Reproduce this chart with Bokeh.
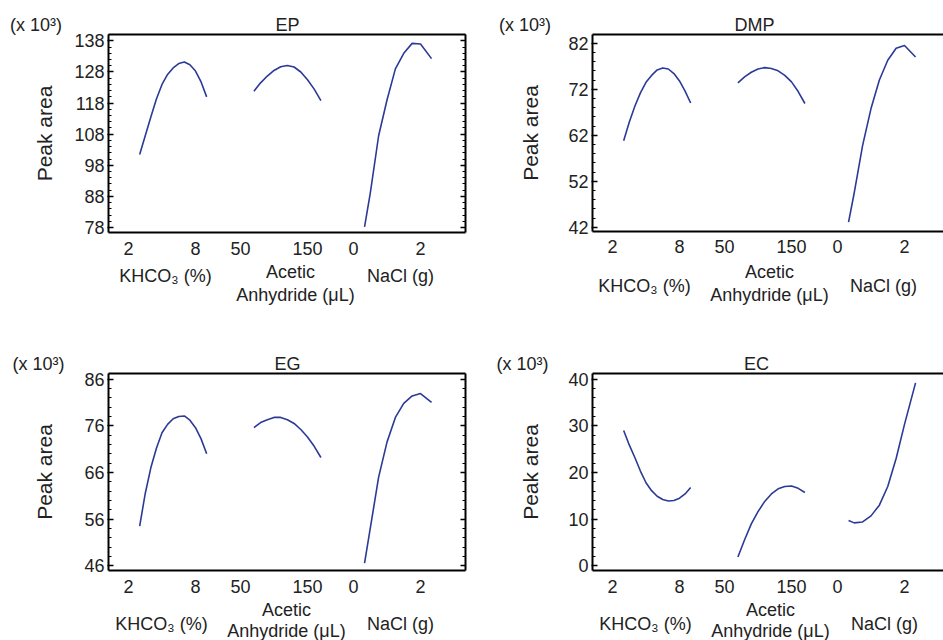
from bokeh.plotting import figure
from bokeh.models import FixedTicker, LinearAxis, Range1d
from bokeh.layouts import column, row
from bokeh.embed import file_html
from bokeh.resources import INLINE

# ---------------- data ----------------
khco3_levels = [3, 3.5, 4, 4.5, 5, 5.5, 6, 6.5, 7, 7.5, 8, 8.5, 9]
acetic_levels = [70, 80, 90, 100, 110, 120, 130, 140, 150, 160, 170]
nacl_levels = [0.33, 0.5, 0.75, 1.0, 1.25, 1.5, 1.75, 2.0, 2.33]

ep_khco3 = [101.5, 107.5, 113.5, 119.3, 124.0, 127.2, 129.3, 130.7, 131.2, 130.3, 128.3, 124.8, 120.0]
ep_acetic = [121.8, 124.5, 126.7, 128.5, 129.7, 130.1, 129.6, 128.0, 125.5, 122.5, 118.8]
ep_nacl = [78.2, 89.0, 107.5, 119.0, 129.0, 134.0, 137.2, 137.0, 132.3]

dmp_khco3 = [60.8, 64.8, 68.3, 71.2, 73.5, 75.0, 76.2, 76.6, 76.4, 75.4, 73.8, 71.6, 69.0]
dmp_acetic = [73.4, 74.7, 75.7, 76.4, 76.7, 76.5, 76.0, 75.0, 73.6, 71.5, 68.9]
dmp_nacl = [43.1, 49.5, 59.8, 67.8, 74.0, 78.3, 80.9, 81.5, 79.0]

eg_khco3 = [54.5, 61.5, 67.0, 71.2, 74.5, 76.3, 77.5, 78.0, 78.1, 77.2, 75.6, 73.2, 70.0]
eg_acetic = [75.6, 76.7, 77.3, 77.8, 77.8, 77.3, 76.5, 75.2, 73.6, 71.6, 69.2]
eg_nacl = [46.6, 54.0, 65.0, 72.5, 77.8, 80.8, 82.4, 82.9, 81.0]

ec_khco3 = [29.0, 25.9, 23.2, 20.3, 17.8, 16.1, 14.9, 14.2, 13.9, 14.0, 14.5, 15.4, 16.8]
ec_acetic = [1.9, 5.6, 9.0, 11.6, 13.8, 15.4, 16.5, 17.0, 17.1, 16.6, 15.7]
ec_nacl = [9.7, 9.2, 9.4, 10.7, 13.0, 17.0, 23.0, 30.3, 39.2]

panel_names = ["EP", "DMP", "EG", "EC"]
y_major = {
    "EP": [78, 88, 98, 108, 118, 128, 138],
    "DMP": [42, 52, 62, 72, 82],
    "EG": [46, 56, 66, 76, 86],
    "EC": [0, 10, 20, 30, 40],
}
x_tick_labels = ["2", "8", "50", "150", "0", "2"]
factor_tick_values = [(2, 8), (50, 150), (0, 2)]
factor_names = ["KHCO\u2083 (%)", "Acetic", "Anhydride (\u03bcL)", "NaCl (g)"]
scale_text = "(x 10\u00b3)"

# ---------------- styling / layout ----------------
BLUE = "#2b3a97"
TXT = "#222222"
FONT = "Liberation Sans"
H = 21            # assumed tick-label box height for 18px text
SCALE_W = 52      # approx. width of the "(x 10^3)" text at 18px
NBSP_W = 5.0      # width of a no-break space at 18px
anchors = [(20, 87), (132, 199), (245, 312)]  # px from frame left for each factor's tick values

y_ranges = {"EP": (76.4, 140.05), "DMP": (41.07, 83.9), "EG": (45.0, 87.2), "EC": (-1.0, 41.2)}
series = {
    "EP": (ep_khco3, ep_acetic, ep_nacl),
    "DMP": (dmp_khco3, dmp_acetic, dmp_nacl),
    "EG": (eg_khco3, eg_acetic, eg_nacl),
    "EC": (ec_khco3, ec_acetic, ec_nacl),
}
layout_cfg = {
    "EP":  dict(fw=357, fh=198, bl=108, bt=34, bb=88, br=5, right=True, ls=15, tx=179, sx=-98,
                nso=9, dy=(45, 66, 45), lx=(57, 182, 187, 292)),
    "DMP": dict(fw=351, fh=197, bl=122, bt=32, bb=91, br=0, right=False, ls=23, tx=162, sx=-93,
                nso=8, dy=(45, 67, 55), lx=(52, 177, 177, 291)),
    "EG":  dict(fw=357, fh=197, bl=108, bt=53, bb=70, br=5, right=True, ls=25, tx=179, sx=-96,
                nso=9, dy=(44, 64, 54), lx=(53, 178, 178, 292)),
    "EC":  dict(fw=351, fh=197, bl=122, bt=53, bb=70, br=0, right=False, ls=23, tx=164, sx=-95,
                nso=9, dy=(44, 64, 54), lx=(53, 178, 178, 292)),
}


def to_display(levels, k):
    (v0, v1), (a0, a1) = factor_tick_values[k], anchors[k]
    return [a0 + (v - v0) * (a1 - a0) / (v1 - v0) for v in levels]


def text_axis(ticks, labels, standoff, size="18px"):
    ax = LinearAxis(ticker=FixedTicker(ticks=ticks, minor_ticks=[]),
                    major_label_overrides={t: s for t, s in zip(ticks, labels)})
    ax.axis_line_color = None
    ax.major_tick_line_color = None
    ax.minor_tick_line_color = None
    ax.major_tick_in = 0
    ax.major_tick_out = 0
    ax.minor_tick_in = 0
    ax.minor_tick_out = 0
    ax.major_label_standoff = standoff
    ax.major_label_text_font = FONT
    ax.major_label_text_font_size = size
    ax.major_label_text_color = TXT
    return ax


def line_axis(ticker, tin=0, tmin=0):
    ax = LinearAxis(ticker=ticker)
    ax.axis_line_width = 2
    ax.axis_line_color = "black"
    ax.major_tick_in = tin
    ax.major_tick_out = 0
    ax.minor_tick_in = tmin
    ax.minor_tick_out = 0
    ax.major_tick_line_width = 1.5
    ax.minor_tick_line_width = 1.2
    if tin == 0:
        ax.major_tick_line_color = None
        ax.minor_tick_line_color = None
    ax.major_label_standoff = 0
    ax.major_label_text_color = None
    return ax


def make_panel(name):
    c = layout_cfg[name]
    ylo, yhi = y_ranges[name]
    majors = y_major[name]
    step = (majors[1] - majors[0]) / 5
    t = majors[0]
    while t - step >= ylo:
        t -= step
    minors = []
    while t <= yhi:
        minors.append(round(t, 6))
        t += step

    p = figure(frame_width=c["fw"], frame_height=c["fh"],
               x_range=Range1d(0, c["fw"]), y_range=Range1d(ylo, yhi),
               x_axis_type=None, y_axis_type=None,
               output_backend="svg", toolbar_location=None,
               min_border_left=c["bl"], min_border_top=c["bt"],
               min_border_bottom=c["bb"], min_border_right=c["br"])
    p.outline_line_color = None
    p.background_fill_color = "white"
    p.border_fill_color = "white"

    # left axis
    yl = LinearAxis(ticker=FixedTicker(ticks=majors, minor_ticks=minors), axis_label="Peak area")
    yl.axis_line_width = 2
    yl.axis_line_color = "black"
    yl.major_tick_in = 5
    yl.major_tick_out = 1
    yl.minor_tick_in = 3
    yl.minor_tick_out = 0
    yl.major_tick_line_width = 1.5
    yl.minor_tick_line_width = 1.2
    yl.major_label_standoff = 3
    yl.major_label_text_font = FONT
    yl.major_label_text_font_size = "18px"
    yl.major_label_text_color = TXT
    yl.axis_label_text_font = FONT
    yl.axis_label_text_font_size = "21px"
    yl.axis_label_text_font_style = "normal"
    yl.axis_label_text_color = TXT
    yl.axis_label_standoff = c["ls"]
    p.add_layout(yl, "left")

    # right axis (only where the reference shows the right border)
    if c["right"]:
        p.add_layout(line_axis(FixedTicker(ticks=majors, minor_ticks=minors), tin=5, tmin=3), "right")

    # top border line, then the title row ("(x 10^3)" and panel name)
    p.add_layout(line_axis(FixedTicker(ticks=[], minor_ticks=[])), "above")
    n_pad = max(0, round((2 * (-c["sx"]) - SCALE_W) / NBSP_W))
    scale_label = scale_text + "\u00a0" * n_pad   # centred on the frame's left edge
    p.add_layout(text_axis([0, c["tx"]], [scale_label, name], 0), "above")

    # bottom numeric tick labels
    tick_pos = []
    for (a0, a1) in anchors:
        tick_pos += [a0, a1]
    xb = text_axis(tick_pos, x_tick_labels, c["nso"])
    xb.axis_line_color = "black"
    xb.axis_line_width = 2
    p.add_layout(xb, "below")

    # factor names (stacked rows)
    d_ac, d_an, d_si = c["dy"]
    lx = c["lx"]
    s1 = c["nso"] + H
    s2 = round(d_ac - s1 - H / 2)
    s3 = round(d_an - (s1 + s2 + H) - H / 2)
    s4 = round(d_si - (s1 + s2 + H + s3 + H) - H / 2)
    p.add_layout(text_axis([lx[1]], [factor_names[1]], s2), "below")
    p.add_layout(text_axis([lx[2]], [factor_names[2]], s3), "below")
    p.add_layout(text_axis([lx[0], lx[3]], [factor_names[0], factor_names[3]], s4), "below")

    levels = [khco3_levels, acetic_levels, nacl_levels]
    for k, ys in enumerate(series[name]):
        p.line(to_display(levels[k], k), ys, line_color=BLUE, line_width=1.6)
    return p


plots = {n: make_panel(n) for n in panel_names}
layout = column(row(plots["EP"], plots["DMP"]), row(plots["EG"], plots["EC"]))
open("out.html", "w").write(file_html(layout, INLINE))
